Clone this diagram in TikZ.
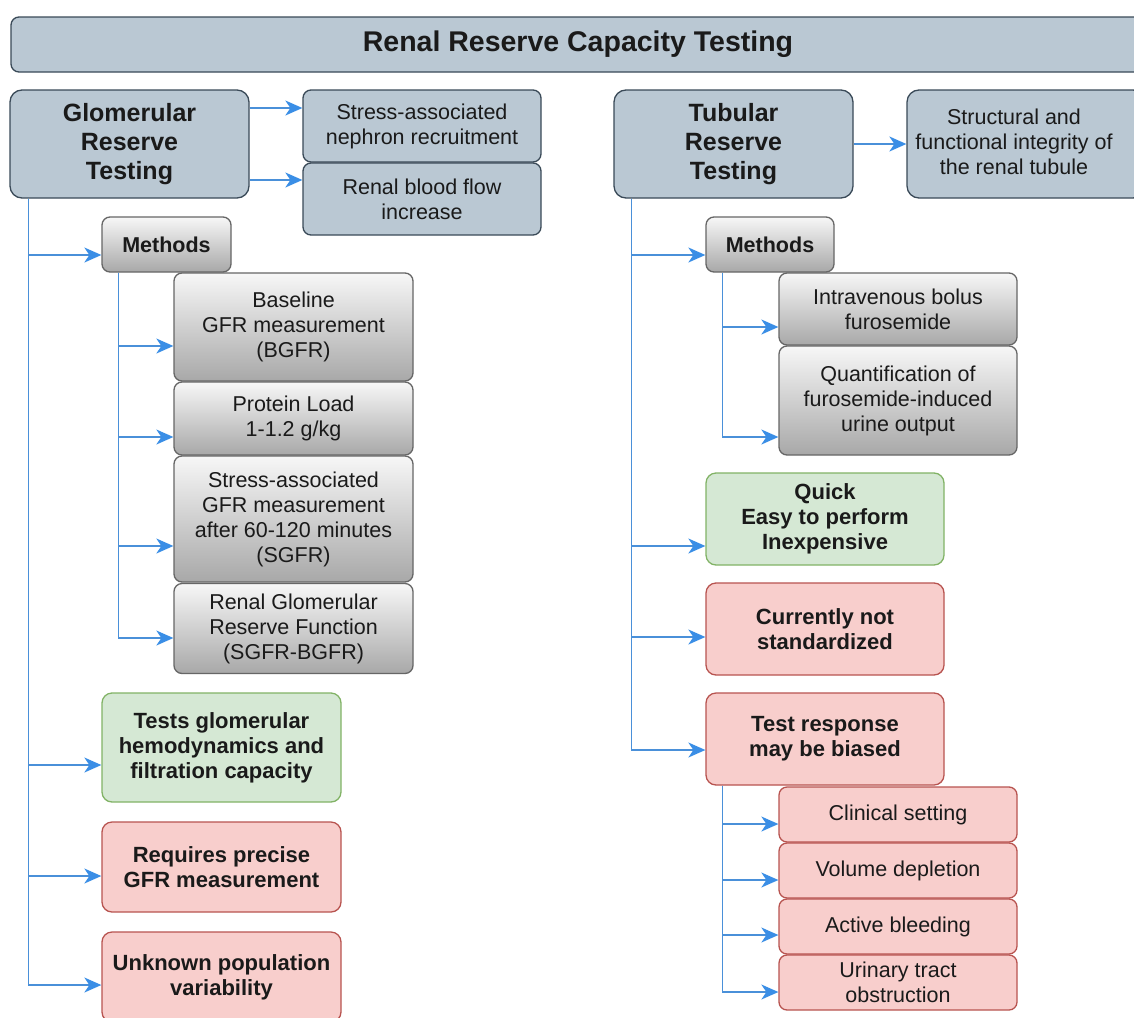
\documentclass[tikz,border=0pt]{standalone}
\usepackage{fontspec}
\setmainfont{Liberation Sans}
\usetikzlibrary{arrows.meta}
\definecolor{bluefill}{HTML}{BAC8D3}
\definecolor{bluedraw}{HTML}{3A4A58}
\definecolor{grayfillA}{HTML}{F7F7F7}
\definecolor{grayfillB}{HTML}{A8A8A8}
\definecolor{graydraw}{HTML}{666666}
\definecolor{greenfill}{HTML}{D5E8D4}
\definecolor{greendraw}{HTML}{82B366}
\definecolor{redfill}{HTML}{F8CECC}
\definecolor{reddraw}{HTML}{B85450}
\definecolor{conncol}{HTML}{4A90D9}
\definecolor{headcol}{HTML}{3A8EE6}
\definecolor{txt}{HTML}{1A1A1A}
\tikzset{
  base/.style={rounded corners=8pt, line width=1.3pt, inner sep=0pt, align=center, text=txt,
    font=\fontsize{21.5}{25}\selectfont},
  bluebox/.style={base, fill=bluefill, draw=bluedraw},
  bluebold/.style={bluebox, font=\bfseries\fontsize{25}{29}\selectfont, rounded corners=12pt},
  graybox/.style={base, draw=graydraw, top color=grayfillA, bottom color=grayfillB},
  graybold/.style={graybox, font=\bfseries\fontsize{21.5}{25}\selectfont},
  greenbox/.style={base, fill=greenfill, draw=greendraw, font=\bfseries\fontsize{22}{25}\selectfont, rounded corners=10pt},
  redbox/.style={base, fill=redfill, draw=reddraw, font=\bfseries\fontsize{22}{25}\selectfont, rounded corners=10pt},
  redsmall/.style={base, fill=redfill, draw=reddraw},
  conn/.style={draw=conncol, line width=1.4pt, -{Stealth[length=17pt 0,width=15pt 0,inset=5pt,color=headcol]}},
  sz/.style 2 args={minimum width=#1pt, minimum height=#2pt},
}
\begin{document}
\begin{tikzpicture}[x=1pt,y=-1pt]
\useasboundingbox (0,0) rectangle (1134,1017);
\clip (0,0) rectangle (1134,1017);
\fill[white] (0,0) rectangle (1134,1017);

% title
\node[bluebox, sz={1134}{55}, font=\bfseries\fontsize{28.5}{32}\selectfont] (title) at (578,44.5) {Renal Reserve Capacity Testing};

% left column
\node[bluebold, sz={239}{108}] (glom) at (129.5,144) {Glomerular\\Reserve\\Testing};
\node[bluebox, sz={238}{72}] (neph) at (422,126) {Stress-associated\\nephron recruitment};
\node[bluebox, sz={238}{72}] (blood) at (422,199) {Renal blood flow\\increase};
\node[graybold, sz={129}{55}] (methL) at (166.5,244.5) {Methods};
\node[graybox, sz={239}{108}] (bgfr) at (293.5,327) {Baseline\\GFR measurement\\(BGFR)};
\node[graybox, sz={239}{73}] (prot) at (293.5,418.5) {Protein Load\\1-1.2 g/kg};
\node[graybox, sz={239}{126}] (sgfr) at (293.5,519) {Stress-associated\\GFR measurement\\after 60-120 minutes\\(SGFR)};
\node[graybox, sz={239}{90}] (rgrf) at (293.5,628.5) {Renal Glomerular\\Reserve Function\\(SGFR-BGFR)};
\node[greenbox, sz={239}{109}] (tests) at (221.5,747.5) {Tests glomerular\\hemodynamics and\\filtration capacity};
\node[redbox, sz={239}{90}] (requires) at (221.5,867) {Requires precise\\GFR measurement};
\node[redbox, sz={239}{90}] (unknown) at (221.5,977) {Unknown population\\variability};

% right column
\node[bluebold, sz={239}{108}] (tub) at (733.5,144) {Tubular\\Reserve\\Testing};
\node[bluebox, sz={238}{108}, rounded corners=12pt] (struct) at (1026,144)
  {\begin{tabular}{@{}c@{\hspace{24pt}}}Structural and\\functional integrity of\\the renal tubule\end{tabular}};
\node[graybold, sz={128}{55}] (methR) at (770,244.5) {Methods};
\node[graybox, sz={238}{72}] (iv) at (898,309) {Intravenous bolus\\furosemide};
\node[graybox, sz={238}{109}] (quant) at (898,400.5) {Quantification of\\furosemide-induced\\urine output};
\node[greenbox, sz={238}{92}] (quick) at (825,519) {Quick\\Easy to perform\\Inexpensive};
\node[redbox, sz={238}{92}] (notstd) at (825,629) {Currently not\\standardized};
\node[redbox, sz={238}{92}] (bias) at (825,739) {Test response\\may be biased};
\node[redsmall, sz={238}{55}] (clin) at (898,814.5) {Clinical setting};
\node[redsmall, sz={238}{55}] (vol) at (898,870.5) {Volume depletion};
\node[redsmall, sz={238}{55}] (bleed) at (898,926.5) {Active bleeding};
\node[redsmall, sz={238}{55}] (urin) at (898,982.5) {Urinary tract\\obstruction};

% connectors: glomerular
\draw[conn] ([yshift=36pt]glom.east) -- ([yshift=36pt]glom.east -| neph.west);
\draw[conn] ([yshift=-36pt]glom.east) -- ([yshift=-36pt]glom.east -| blood.west);
\draw[conn] ([xshift=19pt]glom.south west) |- ([yshift=-10.5pt]methL.west);
\draw[conn] ([xshift=19pt]glom.south west) |- ([yshift=-17.5pt]tests.west);
\draw[conn] ([xshift=19pt]glom.south west) |- ([yshift=-9pt]requires.west);
\draw[conn] ([xshift=19pt]glom.south west) |- ([yshift=-8pt]unknown.west);
\draw[conn] ([xshift=17pt]methL.south west) |- ([yshift=-19pt]bgfr.west);
\draw[conn] ([xshift=17pt]methL.south west) |- ([yshift=-18.5pt]prot.west);
\draw[conn] ([xshift=17pt]methL.south west) |- ([yshift=-27pt]sgfr.west);
\draw[conn] ([xshift=17pt]methL.south west) |- ([yshift=-9.5pt]rgrf.west);

% connectors: tubular
\draw[conn] (tub.east) -- (struct.west);
\draw[conn] ([xshift=18pt]tub.south west) |- ([yshift=-10.5pt]methR.west);
\draw[conn] ([xshift=18pt]tub.south west) |- ([yshift=-27pt]quick.west);
\draw[conn] ([xshift=18pt]tub.south west) |- ([yshift=-8pt]notstd.west);
\draw[conn] ([xshift=18pt]tub.south west) |- ([yshift=-11pt]bias.west);
\draw[conn] ([xshift=17pt]methR.south west) |- ([yshift=-18pt]iv.west);
\draw[conn] ([xshift=17pt]methR.south west) |- ([yshift=-36.5pt]quant.west);
\draw[conn] ([xshift=17pt]bias.south west) |- ([yshift=-9.5pt]clin.west);
\draw[conn] ([xshift=17pt]bias.south west) |- ([yshift=-9.5pt]vol.west);
\draw[conn] ([xshift=17pt]bias.south west) |- ([yshift=-8.5pt]bleed.west);
\draw[conn] ([xshift=17pt]bias.south west) |- ([yshift=-9.5pt]urin.west);
\end{tikzpicture}
\end{document}
